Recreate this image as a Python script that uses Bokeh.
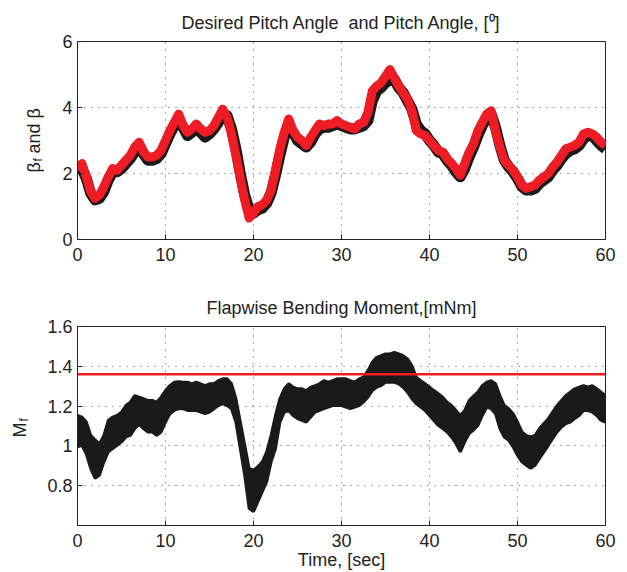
from bokeh.plotting import figure
from bokeh.layouts import column, row
from bokeh.models import FixedTicker, Span
from bokeh.core.properties import value
from bokeh.embed import file_html
from bokeh.resources import INLINE

# ---------------- data ----------------
time = [i * 0.5 for i in range(121)]  # seconds, 0 .. 60

# desired pitch angle beta_f (red), degrees
beta_f = [
    2.1, 2.3, 1.9, 1.45, 1.25, 1.35, 1.6, 1.9, 2.15, 2.1,
    2.25, 2.4, 2.55, 2.8, 2.95, 2.65, 2.5, 2.5, 2.55, 2.7,
    3.0, 3.3, 3.55, 3.8, 3.45, 3.25, 3.35, 3.5, 3.35, 3.25,
    3.3, 3.45, 3.7, 3.95, 3.7, 3.2, 2.55, 1.85, 1.2, 0.65,
    0.8, 1.0, 1.05, 1.2, 1.5, 2.1, 2.75, 3.25, 3.65, 3.3,
    3.1, 3.0, 2.85, 3.1, 3.3, 3.5, 3.45, 3.5, 3.5, 3.6,
    3.5, 3.45, 3.4, 3.35, 3.5, 3.55, 3.85, 4.5, 4.65, 4.75,
    4.95, 5.15, 4.9, 4.65, 4.45, 4.25, 3.9, 3.3, 3.2, 3.15,
    3.0, 2.85, 2.7, 2.65, 2.45, 2.3, 2.15, 1.95, 2.3, 2.65,
    2.9, 3.3, 3.55, 3.8, 3.9, 3.3, 2.8, 2.4, 2.25, 2.1,
    1.9, 1.65, 1.55, 1.6, 1.65, 1.8, 1.9, 2.0, 2.2, 2.35,
    2.55, 2.75, 2.8, 2.85, 2.95, 3.2, 3.25, 3.2, 3.1, 2.95,
    2.85,
]

# actual pitch angle beta (black), degrees
beta = [
    2.0, 2.15, 1.85, 1.4, 1.2, 1.25, 1.45, 1.8, 2.05, 2.05,
    2.15, 2.3, 2.45, 2.65, 2.85, 2.6, 2.4, 2.4, 2.45, 2.6,
    2.9, 3.2, 3.45, 3.65, 3.4, 3.15, 3.25, 3.35, 3.25, 3.1,
    3.2, 3.35, 3.55, 3.8, 3.75, 3.35, 2.75, 2.0, 1.35, 0.9,
    0.8, 0.9, 0.95, 1.1, 1.4, 1.95, 2.55, 3.1, 3.4, 3.25,
    3.0, 2.9, 2.8, 2.95, 3.2, 3.35, 3.4, 3.4, 3.45, 3.5,
    3.45, 3.4, 3.35, 3.35, 3.4, 3.45, 3.6, 4.2, 4.5, 4.6,
    4.75, 4.85, 4.85, 4.6, 4.45, 4.2, 3.95, 3.5, 3.3, 3.2,
    3.0, 2.85, 2.65, 2.6, 2.4, 2.25, 2.05, 1.9, 2.15, 2.5,
    2.8, 3.15, 3.45, 3.7, 3.8, 3.4, 2.85, 2.4, 2.2, 2.05,
    1.85, 1.6, 1.5, 1.5, 1.55, 1.7, 1.8, 1.9, 2.1, 2.25,
    2.45, 2.6, 2.7, 2.75, 2.85, 3.05, 3.15, 3.15, 3.0, 2.85,
    2.75,
]

# flapwise bending moment M_f envelope (upper / lower), mNm
mf_upper = [
    1.153, 1.145, 1.12, 1.053, 1.03, 1.01, 1.053, 1.128, 1.145, 1.153,
    1.17, 1.203, 1.22, 1.253, 1.245, 1.237, 1.228, 1.228, 1.22, 1.245,
    1.278, 1.303, 1.32, 1.323, 1.32, 1.32, 1.312, 1.32, 1.312, 1.303,
    1.312, 1.312, 1.328, 1.337, 1.337, 1.312, 1.237, 1.12, 1.003, 0.887,
    0.878, 0.895, 0.92, 0.97, 1.053, 1.153, 1.237, 1.287, 1.312, 1.295,
    1.287, 1.287, 1.278, 1.295, 1.303, 1.312, 1.328, 1.32, 1.328, 1.337,
    1.337, 1.337, 1.328, 1.32, 1.337, 1.345, 1.378, 1.42, 1.445, 1.453,
    1.462, 1.462, 1.47, 1.462, 1.453, 1.437, 1.403, 1.345, 1.328, 1.312,
    1.295, 1.278, 1.262, 1.245, 1.22, 1.203, 1.178, 1.153, 1.178, 1.228,
    1.25, 1.27, 1.303, 1.32, 1.328, 1.312, 1.253, 1.203, 1.187, 1.162,
    1.12, 1.07, 1.053, 1.045, 1.053, 1.087, 1.112, 1.137, 1.17, 1.203,
    1.228, 1.253, 1.27, 1.287, 1.295, 1.303, 1.295, 1.303, 1.287, 1.27,
    1.253,
]
mf_lower = [
    0.995, 1.003, 0.96, 0.887, 0.837, 0.853, 0.92, 0.97, 0.987, 1.003,
    1.02, 1.045, 1.053, 1.087, 1.11, 1.087, 1.07, 1.07, 1.053, 1.07,
    1.12, 1.162, 1.178, 1.187, 1.187, 1.178, 1.178, 1.178, 1.17, 1.162,
    1.17, 1.187, 1.203, 1.212, 1.203, 1.187, 1.12, 0.987, 0.853, 0.687,
    0.67, 0.72, 0.77, 0.82, 0.92, 0.987, 1.12, 1.17, 1.178, 1.153,
    1.137, 1.128, 1.12, 1.145, 1.17, 1.178, 1.187, 1.195, 1.203, 1.203,
    1.203, 1.195, 1.187, 1.195, 1.203, 1.22, 1.245, 1.278, 1.295, 1.303,
    1.32, 1.32, 1.32, 1.312, 1.295, 1.27, 1.237, 1.212, 1.195, 1.178,
    1.153, 1.128, 1.103, 1.087, 1.07, 1.045, 1.012, 0.97, 1.02, 1.062,
    1.08, 1.103, 1.153, 1.195, 1.187, 1.162, 1.087, 1.045, 1.028, 0.995,
    0.953, 0.92, 0.903, 0.887, 0.903, 0.937, 0.97, 1.003, 1.037, 1.07,
    1.095, 1.112, 1.12, 1.137, 1.153, 1.178, 1.178, 1.17, 1.153, 1.128,
    1.12,
]
mf_limit = 1.36

x_ticks = [0, 10, 20, 30, 40, 50, 60]
top_y_ticks = [0, 2, 4, 6]
bot_y_ticks = [0.8, 1.0, 1.2, 1.4, 1.6]
bot_y_tick_labels = ["0.8", "1", "1.2", "1.4", "1.6"]

top_title = "Desired Pitch Angle \u00a0and Pitch Angle, [\u2070]"
bot_title = "Flapwise Bending Moment,[mNm]"
x_label = "Time, [sec]"

# ---------------- styling ----------------
FONT = "Liberation Sans"
TXT = "#222222"
RED = "#ee1c25"
BLK = "#1a1a1a"
LABEL_W = 44  # width of the strip that holds the rotated y-axis titles


def style(p, yticks, title, overrides=None):
    p.background_fill_color = "white"
    p.border_fill_color = "white"
    p.outline_line_color = "#222222"
    p.outline_line_width = 1
    p.xaxis.ticker = FixedTicker(ticks=x_ticks)
    p.yaxis.ticker = FixedTicker(ticks=yticks)
    if overrides:
        p.yaxis.major_label_overrides = overrides
    for ax in (p.xaxis, p.yaxis):
        ax.major_tick_in = 5
        ax.major_tick_out = 0
        ax.minor_tick_line_color = None
        ax.major_label_text_font = FONT
        ax.major_label_text_font_size = "18px"
        ax.major_label_text_color = TXT
        ax.axis_line_color = "#222222"
        ax.major_tick_line_color = "#222222"
    p.xaxis.major_label_standoff = 8
    p.yaxis.major_label_standoff = 5
    for g in (p.xgrid, p.ygrid):
        g.grid_line_color = "#444444"
        g.grid_line_dash = "1 6"
        g.grid_line_width = 1
        g.grid_line_alpha = 0.9
    p.title.text = title
    p.title.align = "center"
    p.title.text_font = FONT
    p.title.text_font_size = "18px"
    p.title.text_font_style = "normal"
    p.title.text_color = TXT
    p.title.standoff = 17


# ---------------- top plot ----------------
p1 = figure(width=627 - LABEL_W, height=286, x_range=(0, 60), y_range=(0, 6),
            output_backend="svg", toolbar_location=None,
            min_border_left=77 - LABEL_W, min_border_right=22,
            min_border_top=41, min_border_bottom=47)
style(p1, top_y_ticks, top_title)
p1.line(time, beta, line_color=BLK, line_width=11, line_join="round")
p1.line(time, beta_f, line_color=RED, line_width=9, line_join="round")

# ---------------- bottom plot ----------------
p2 = figure(width=627 - LABEL_W, height=286, x_range=(0, 60), y_range=(0.6, 1.6),
            output_backend="svg", toolbar_location=None,
            min_border_left=77 - LABEL_W, min_border_right=22,
            min_border_top=40, min_border_bottom=46)
style(p2, bot_y_ticks, bot_title, dict(zip(bot_y_ticks, bot_y_tick_labels)))
p2.varea(x=time, y1=mf_lower, y2=mf_upper, fill_color=BLK)
p2.line(time, mf_upper, line_color=BLK, line_width=3)
p2.line(time, mf_lower, line_color=BLK, line_width=3)
p2.add_layout(Span(location=mf_limit, dimension="width", line_color=RED, line_width=2.5))
p2.xaxis.axis_label = x_label
p2.xaxis.axis_label_text_font = FONT
p2.xaxis.axis_label_text_font_size = "18px"
p2.xaxis.axis_label_text_font_style = "normal"
p2.xaxis.axis_label_text_color = TXT
p2.xaxis.axis_label_text_line_height = 1.0
p2.xaxis.major_label_text_line_height = 1.0
p2.xaxis.axis_label_standoff = 0

# ---------------- strip with the rotated y-axis titles (pixel coordinates) ----
lab = figure(width=LABEL_W, height=572, x_range=(0, LABEL_W), y_range=(0, 572),
             output_backend="svg", toolbar_location=None,
             x_axis_type=None, y_axis_type=None,
             min_border_left=0, min_border_right=0, min_border_top=0, min_border_bottom=0)
lab.outline_line_color = None
lab.grid.visible = False
lab.background_fill_color = "white"
lab.border_fill_color = "white"
big = dict(angle=90, angle_units="deg", text_font=value(FONT), text_color=TXT,
           text_align="left", text_baseline="middle")
# beta_f and beta  (screen y 172 -> 124)
lab.text(x=[33], y=[572 - 172], text=["\u03b2"], text_font_size="18px", **big)
lab.text(x=[37], y=[572 - 161], text=["f"], text_font_size="12px", **big)
lab.text(x=[33], y=[572 - 158], text=["\u00a0and \u03b2"], text_font_size="18px", **big)
# M_f  (screen y 437 -> 410)
lab.text(x=[19], y=[572 - 437], text=["M"], text_font_size="18px", **big)
lab.text(x=[23.5], y=[572 - 421], text=["f"], text_font_size="12px", **big)

layout = row(lab, column(p1, p2, spacing=0), spacing=0)
open("out.html", "w").write(file_html(layout, INLINE))
